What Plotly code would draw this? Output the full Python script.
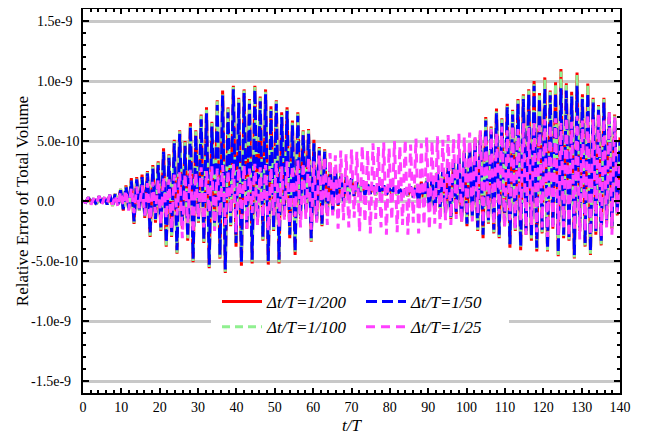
import numpy as np
import plotly.graph_objects as go

# ---------------- data (units of 1e-10) ----------------
T_STEP = 0.7  # t/T spacing between successive extrema (peak, trough, peak, ...)

BLUE_PEAKS = [0.0, 0.3, 0.2, 0.4, 0.3,
              0.5, 0.6, 0.9, 1.2, 1.7,
              1.8, 2.0, 2.3, 2.7, 3.0,
              4.1, 3.6, 4.8, 5.6, 4.6,
              6.2, 5.5, 6.8, 7.3, 6.2,
              8.0, 8.8, 7.4, 9.3, 8.2,
              9.0, 8.1, 9.3, 8.3, 8.9,
              7.5, 8.1, 7.0, 7.5, 6.3,
              7.1, 5.5, 5.6, 4.8, 4.2,
              4.1, 3.0, 2.6, 2.2, 2.0,
              1.9, 1.6, 1.7, 1.4, 1.3,
              1.2, 1.3, 1.1, 1.2, 1.0,
              1.0, 1.2, 1.3, 1.5, 1.8,
              2.0, 2.3, 2.6, 2.8, 3.3,
              3.6, 4.0, 4.4, 4.9, 5.5,
              6.7, 5.8, 7.3, 6.5, 7.8,
              7.2, 8.1, 8.5, 8.9, 9.6,
              8.6, 9.4, 8.8, 9.0, 9.4,
              9.2, 8.7, 9.6, 8.5, 9.0,
              8.2, 7.6, 8.2, 7.0, 6.8,
              5.0]
BLUE_TROUGHS = [-0.1, -0.2, -0.3, -0.2, -0.3,
                -0.4, -0.3, -0.7, -0.6, -1.7,
                -0.7, -1.2, -2.7, -1.5, -2.2,
                -3.5, -2.7, -4.1, -2.0, -3.0,
                -4.8, -1.5, -3.2, -5.3, -2.0,
                -4.5, -5.7, -1.8, -3.5, -5.1,
                -2.0, -4.9, -1.5, -3.0, -5.0,
                -2.2, -4.9, -1.0, -2.8, -4.2,
                -1.2, -0.7, -3.1, -1.5, -1.9,
                -1.0, -0.8, -0.3, 0.0, 0.3,
                0.4, 0.5, 0.5, 0.6, 0.5,
                0.6, 0.5, 0.6, 0.5, 0.4,
                0.4, 0.3, 0.0, -0.3, -0.5,
                -0.8, -0.5, -1.0, -1.3, -0.9,
                -1.5, -1.9, -1.2, -2.2, -2.8,
                -1.6, -2.4, -2.8, -1.8, -3.6,
                -2.2, -3.8, -2.5, -3.0, -3.9,
                -2.4, -3.9, -2.0, -4.3, -2.8,
                -3.0, -4.5, -2.2, -3.5, -4.2,
                -2.5, -3.4, -1.6, -2.1, -1.0]

GREEN_PEAKS = [0.0, 0.3, 0.2, 0.4, 0.3,
               0.5, 0.6, 1.0, 1.3, 1.8,
               1.9, 2.1, 2.4, 2.9, 3.2,
               4.3, 3.8, 5.0, 5.8, 4.9,
               6.4, 5.8, 7.1, 7.6, 6.5,
               8.3, 9.0, 7.7, 9.5, 8.5,
               9.2, 8.4, 9.5, 8.6, 9.1,
               7.8, 8.3, 7.3, 7.7, 6.6,
               7.3, 5.8, 5.9, 5.0, 4.4,
               4.2, 3.1, 2.7, 2.3, 2.0,
               1.9, 1.6, 1.7, 1.4, 1.3,
               1.2, 1.3, 1.1, 1.2, 1.0,
               1.0, 1.2, 1.3, 1.6, 1.9,
               2.1, 2.4, 2.7, 2.9, 3.4,
               3.7, 4.1, 4.6, 5.1, 5.7,
               6.9, 6.1, 7.6, 6.8, 8.0,
               7.5, 8.4, 8.8, 9.2, 9.9,
               8.9, 10.1, 9.1, 9.8, 10.8,
               9.7, 9.0, 10.5, 8.8, 9.6,
               8.5, 7.9, 8.5, 7.3, 7.1,
               5.2]
GREEN_TROUGHS = [-0.1, -0.2, -0.3, -0.2, -0.3,
                 -0.4, -0.3, -0.8, -0.7, -1.8,
                 -0.8, -1.3, -2.9, -1.7, -2.4,
                 -3.7, -2.9, -4.3, -2.2, -3.2,
                 -5.0, -1.7, -3.4, -5.5, -2.2,
                 -4.7, -5.9, -2.0, -3.7, -5.3,
                 -2.2, -5.1, -1.7, -3.2, -5.2,
                 -2.4, -5.1, -1.2, -3.0, -4.4,
                 -1.4, -0.8, -3.3, -1.6, -2.0,
                 -1.1, -0.9, -0.4, 0.0, 0.3,
                 0.4, 0.5, 0.5, 0.6, 0.5,
                 0.6, 0.5, 0.6, 0.5, 0.4,
                 0.4, 0.3, 0.0, -0.3, -0.6,
                 -0.9, -0.6, -1.1, -1.4, -1.0,
                 -1.6, -2.0, -1.3, -2.4, -3.0,
                 -1.8, -2.6, -3.0, -2.0, -3.8,
                 -2.4, -4.0, -2.7, -3.2, -4.1,
                 -2.6, -4.1, -2.2, -4.5, -3.0,
                 -3.2, -4.7, -2.4, -3.7, -4.4,
                 -2.7, -3.6, -1.8, -2.2, -1.1]

RED_PEAKS = [0.0, 0.3, 0.2, 0.4, 0.3,
             0.5, 0.6, 1.0, 1.3, 1.9,
             2.0, 2.2, 2.5, 3.0, 3.3,
             4.4, 3.9, 5.1, 5.9, 5.0,
             6.5, 5.9, 7.2, 7.8, 6.6,
             8.4, 9.2, 7.8, 9.6, 8.6,
             9.3, 8.5, 9.6, 8.7, 9.3,
             7.9, 8.4, 7.4, 7.8, 6.7,
             7.4, 5.9, 6.0, 5.1, 4.5,
             4.3, 3.2, 2.8, 2.3, 2.1,
             1.9, 1.6, 1.7, 1.4, 1.3,
             1.2, 1.3, 1.1, 1.2, 1.0,
             1.0, 1.2, 1.3, 1.6, 1.9,
             2.1, 2.4, 2.7, 3.0, 3.5,
             3.8, 4.2, 4.7, 5.2, 5.8,
             7.0, 6.2, 7.7, 6.9, 8.1,
             7.6, 8.5, 8.9, 9.3, 10.0,
             9.0, 10.3, 9.2, 9.9, 11.0,
             9.8, 9.1, 10.7, 8.9, 9.8,
             8.6, 8.0, 8.6, 7.4, 7.2,
             5.3]
RED_TROUGHS = [-0.1, -0.2, -0.3, -0.2, -0.3,
               -0.4, -0.3, -0.8, -0.7, -1.9,
               -0.8, -1.4, -3.0, -1.8, -2.5,
               -3.8, -3.0, -4.4, -2.3, -3.3,
               -5.1, -1.8, -3.5, -5.6, -2.3,
               -4.8, -6.0, -2.1, -3.8, -5.4,
               -2.3, -5.2, -1.8, -3.3, -5.3,
               -2.5, -5.2, -1.3, -3.1, -4.5,
               -1.5, -0.9, -3.4, -1.7, -2.1,
               -1.2, -0.9, -0.4, 0.0, 0.3,
               0.4, 0.5, 0.5, 0.6, 0.5,
               0.6, 0.5, 0.6, 0.5, 0.4,
               0.4, 0.3, 0.0, -0.3, -0.6,
               -0.9, -0.6, -1.1, -1.5, -1.1,
               -1.7, -2.1, -1.4, -2.5, -3.1,
               -1.9, -2.7, -3.1, -2.1, -3.9,
               -2.5, -4.1, -2.8, -3.3, -4.2,
               -2.7, -4.2, -2.3, -4.6, -3.1,
               -3.3, -4.8, -2.5, -3.8, -4.5,
               -2.8, -3.7, -1.9, -2.3, -1.2]

MAGENTA_PEAKS = [0.0, 0.3, 0.2, 0.4, 0.3,
                 0.5, 0.5, 0.8, 0.9, 1.1,
                 1.2, 1.3, 1.5, 1.6, 1.8,
                 2.0, 1.8, 2.2, 2.4, 2.3,
                 2.6, 2.4, 2.8, 2.5, 2.9,
                 2.7, 3.0, 2.6, 3.1, 2.8,
                 3.0, 2.7, 3.1, 2.8, 3.0,
                 2.8, 3.2, 2.9, 3.3, 3.0,
                 3.4, 3.2, 3.6, 3.3, 3.8,
                 3.7, 4.0, 3.8, 4.2, 3.9,
                 4.3, 4.1, 4.6, 4.2, 4.8,
                 4.5, 4.9, 4.4, 5.0, 4.6,
                 5.1, 4.7, 5.2, 4.8, 5.3,
                 5.0, 5.4, 5.1, 5.5, 5.2,
                 5.6, 5.3, 5.7, 5.4, 5.9,
                 5.6, 6.0, 5.7, 6.2, 5.9,
                 6.3, 6.0, 6.5, 6.1, 6.6,
                 6.3, 6.8, 6.4, 6.9, 6.5,
                 7.0, 6.6, 7.1, 6.7, 7.2,
                 6.8, 7.3, 6.9, 7.5, 7.0,
                 3.4]
MAGENTA_TROUGHS = [-0.1, -0.3, -0.2, -0.3, -0.2,
                   -0.3, -0.5, -0.4, -0.8, -1.0,
                   -0.6, -1.2, -1.6, -1.0, -2.0,
                   -1.5, -2.4, -1.2, -3.1, -1.8,
                   -2.7, -1.4, -2.2, -1.0, -2.5,
                   -1.3, -2.0, -1.0, -2.6, -1.5,
                   -2.3, -1.0, -2.0, -1.4, -2.5,
                   -1.2, -2.2, -1.6, -2.0, -1.3,
                   -2.2, -1.5, -2.4, -1.8, -1.4,
                   -2.0, -1.2, -2.3, -1.6, -2.2,
                   -1.4, -2.6, -1.8, -2.7, -1.5,
                   -2.2, -2.8, -1.6, -2.6, -2.0,
                   -2.8, -1.8, -2.7, -2.0, -2.4,
                   -1.9, -2.3, -1.6, -2.0, -1.5,
                   -1.8, -1.2, -1.7, -1.0, -1.9,
                   -1.4, -2.0, -1.1, -2.2, -1.6,
                   -2.4, -1.6, -2.8, -2.0, -2.6,
                   -2.2, -3.0, -2.4, -2.8, -2.2,
                   -3.0, -2.4, -3.2, -2.6, -2.9,
                   -2.4, -3.0, -2.2, -2.8, -1.0]

Y_TICK_VALS = [1.5e-9, 1.0e-9, 5.0e-10, 0.0, -5.0e-10, -1.0e-9, -1.5e-9]
Y_TICK_TEXT = ["1.5e-9", "1.0e-9", "5.0e-10", "0.0", "-5.0e-10", "-1.0e-9", "-1.5e-9"]
X_TICK_VALS = [0, 10, 20, 30, 40, 50, 60, 70, 80, 90, 100, 110, 120, 130, 140]
X_TICK_TEXT = [str(v) for v in X_TICK_VALS]
X_TITLE = "<i>t/T</i>"
Y_TITLE = "Relative Error of Total Volume"

SERIES = [
    ("Δt/T=1/200", RED_PEAKS, RED_TROUGHS, "#ff0000", "solid", "legend"),
    ("Δt/T=1/100", GREEN_PEAKS, GREEN_TROUGHS, "#90f090", "8px,5px", "legend"),
    ("Δt/T=1/50", BLUE_PEAKS, BLUE_TROUGHS, "#0000ff", "11px,5px", "legend2"),
    ("Δt/T=1/25", MAGENTA_PEAKS, MAGENTA_TROUGHS, "#ff40ff", "9px,6px", "legend2"),
]


def build(peaks, troughs):
    y = []
    for i, p in enumerate(peaks):
        y.append(p)
        if i < len(troughs):
            y.append(troughs[i])
    y = np.array(y) * 1e-10
    t = np.arange(len(y)) * T_STEP
    return t, y


fig = go.Figure()
for name, pk, tr, col, dash, leg in SERIES:
    t, y = build(pk, tr)
    fig.add_trace(go.Scatter(x=t, y=y, mode="lines", name=name, legend=leg,
                             line=dict(color=col, width=3, dash=dash)))

FONT = "Liberation Serif"
OFF = 8  # page body margin of the browser
W, H = 650 - 2 * OFF, 437 - OFF
ML, MR, MT, MB = 75, 22, 1, 44
PW, PH = W - ML - MR, H - MT - MB


def px_x(px):
    return (px - OFF - ML) / PW


def px_y(py):
    return (H - MB - (py - OFF)) / PH


fig.update_layout(
    width=W, height=H,
    margin=dict(l=ML, r=MR, t=MT, b=MB, autoexpand=False),
    paper_bgcolor="white", plot_bgcolor="white",
    font=dict(family=FONT, color="black", size=14),
    showlegend=True,
    legend=dict(x=px_x(217), y=px_y(284), xanchor="left", yanchor="top",
                bgcolor="rgba(0,0,0,0)", font=dict(family=FONT, size=17, style="italic"),
                itemwidth=40, tracegroupgap=0),
    legend2=dict(x=px_x(361), y=px_y(284), xanchor="left", yanchor="top",
                 bgcolor="rgba(0,0,0,0)", font=dict(family=FONT, size=17, style="italic"),
                 itemwidth=40, tracegroupgap=0),
)

fig.update_xaxes(
    range=[0, 140], tickvals=X_TICK_VALS, ticktext=X_TICK_TEXT,
    ticks="inside", ticklen=5, tickwidth=1.5, tickcolor="black",
    minor=dict(dtick=2, tick0=0, ticks="inside", ticklen=3, tickwidth=1.5, tickcolor="black", showgrid=False),
    showline=True, linewidth=2, linecolor="black", mirror="ticks",
    showgrid=False, zeroline=False,
    tickfont=dict(family=FONT, size=14),
)
fig.update_yaxes(
    range=[-1.6e-9, 1.6e-9], tickvals=Y_TICK_VALS, showticklabels=False,
    ticks="inside", ticklen=6, tickwidth=1.5, tickcolor="black",
    minor=dict(dtick=1e-10, tick0=0, ticks="inside", ticklen=3, tickwidth=1.5, tickcolor="black", showgrid=False),
    showline=True, linewidth=2, linecolor="black", mirror="ticks",
    showgrid=True, gridcolor="#c8c8c8", gridwidth=3, zeroline=False,
    title=dict(text=Y_TITLE, font=dict(family=FONT, size=17), standoff=48),
)

# x-axis title placed below the tick labels
fig.add_annotation(x=0.5, xref="paper", y=px_y(425), yref="paper", text=X_TITLE,
                   showarrow=False, xanchor="center", yanchor="middle",
                   font=dict(family=FONT, size=17, color="black"))

# white box behind the legends (interrupts the -1.0e-9 grid line)
fig.add_shape(type="rect", xref="paper", yref="paper",
              x0=px_x(211), x1=px_x(509), y0=px_y(340), y1=px_y(287),
              fillcolor="white", line=dict(width=0), layer="above")

# left-aligned y tick labels
for v, txt in zip(Y_TICK_VALS, Y_TICK_TEXT):
    fig.add_annotation(x=px_x(29 if txt.startswith("-") else 35), xref="paper", y=v, yref="y",
                       text=txt, showarrow=False, xanchor="left", yanchor="middle",
                       font=dict(family=FONT, size=14, color="black"))

fig.write_html("out.html")
